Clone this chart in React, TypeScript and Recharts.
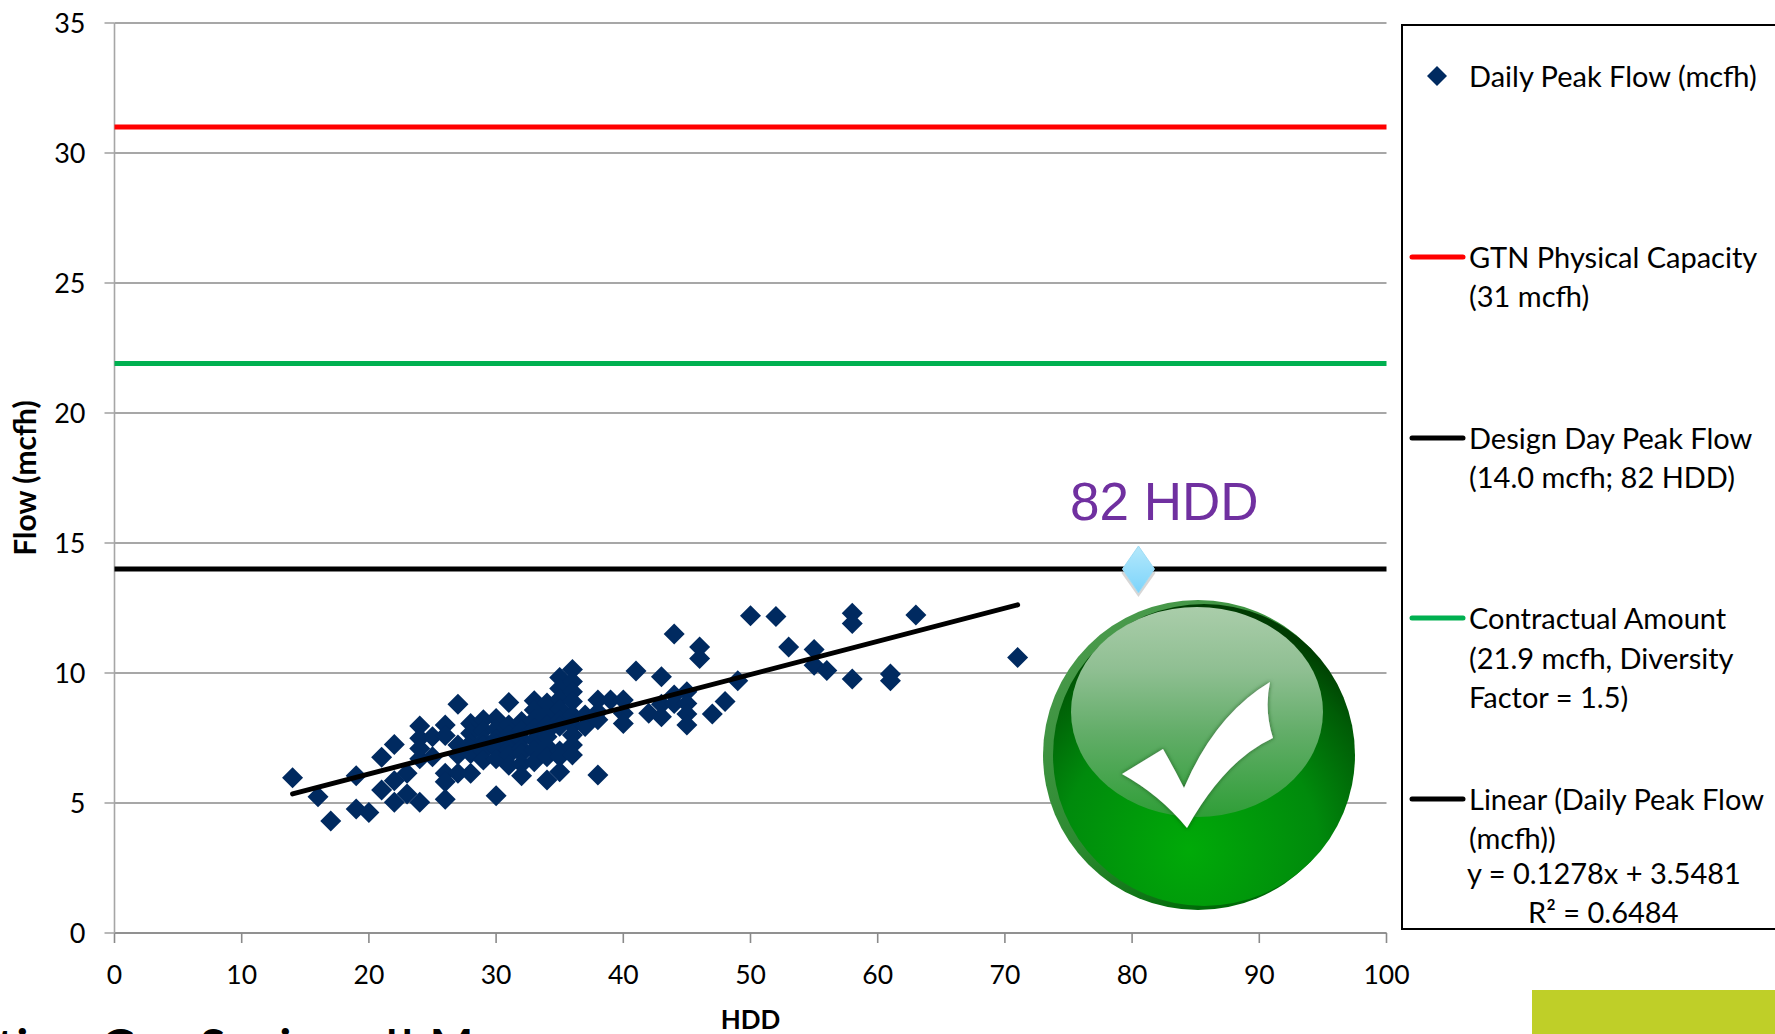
import { CartesianGrid, ReferenceDot, Scatter, ScatterChart, XAxis, YAxis } from 'recharts'

const WIDTH = 1775
const HEIGHT = 1034
const FONT = 'Lato, sans-serif'

const xTicks = [0, 10, 20, 30, 40, 50, 60, 70, 80, 90, 100]
const yTicks = [0, 5, 10, 15, 20, 25, 30, 35]

// [HDD, mcfh]
const peakFlowLow: [number, number][] = [
  [14, 5.97], [16, 5.24], [17, 4.31], [19, 6.05], [19, 4.77], [20, 4.63], [21, 6.76], [21, 5.5],
  [22, 7.25], [22, 5.86], [22, 5.03], [23, 6.14], [23, 5.35], [24, 7.96], [24, 7.49], [24, 7.1],
  [24, 6.7], [24, 5.03], [25, 7.55], [25, 6.78], [26, 8.0], [26, 7.6], [26, 6.14], [26, 5.82],
  [26, 5.14], [27, 8.8], [27, 7.23], [27, 6.85], [27, 6.14],
]
const peakFlowCluster: [number, number][] = [
  [28, 8.06], [28, 7.68], [28, 7.3], [28, 7.1], [28, 6.9], [28, 6.14], [29, 8.2], [29, 7.8],
  [29, 7.4], [29, 7.2], [29, 7.0], [29, 6.65], [30, 8.25], [30, 7.85], [30, 7.47], [30, 7.28],
  [30, 7.1], [30, 6.7], [30, 5.28], [31, 8.87], [31, 8.0], [31, 7.62], [31, 7.23], [31, 7.05],
  [31, 6.85], [31, 6.45], [32, 8.13], [32, 7.8], [32, 7.45], [32, 7.1], [32, 6.9], [32, 6.5],
  [32, 6.05], [33, 8.93], [33, 8.58], [33, 8.2], [33, 7.87], [33, 7.42], [33, 7.04], [33, 6.59],
  [34, 8.85], [34, 8.4], [34, 8.0], [34, 7.75], [34, 7.55], [34, 7.17], [34, 6.78], [34, 5.88],
  [35, 9.83], [35, 9.4], [35, 9.0], [35, 8.62], [35, 8.18], [35, 7.95], [35, 7.0], [35, 6.78],
  [35, 6.2], [36, 10.13], [36, 9.67], [36, 9.28], [36, 8.9], [36, 8.38], [36, 8.0], [36, 7.62],
  [36, 7.23], [36, 6.85], [37, 8.38], [37, 7.94], [38, 8.96], [38, 8.5], [38, 8.2], [38, 6.08],
  [39, 8.96], [40, 8.96], [40, 8.45], [40, 8.06],
]
const peakFlowHigh: [number, number][] = [
  [41, 10.08], [42, 8.45], [43, 9.86], [43, 8.8], [43, 8.32], [44, 11.5], [44, 9.15], [44, 8.83],
  [45, 9.28], [45, 8.83], [45, 8.42], [45, 8.0], [46, 11.0], [46, 10.56], [47, 8.42], [48, 8.9],
  [49, 9.7], [50, 12.2], [52, 12.17], [53, 11.0], [55, 10.9], [55, 10.3], [56, 10.1], [58, 12.3],
  [58, 11.9], [58, 9.77], [61, 9.96], [61, 9.7], [63, 12.23], [71, 10.6],
]
const peakFlow = [...peakFlowLow, ...peakFlowCluster, ...peakFlowHigh].map(([x, y]) => ({ x, y }))

const trendLine = [{ x: 14, y: 5.35 }, { x: 71, y: 12.62 }]
const capacityLine = [{ x: 0, y: 31 }, { x: 100.2, y: 31 }]
const contractLine = [{ x: 0, y: 21.9 }, { x: 100.2, y: 21.9 }]
const designLine = [{ x: 0, y: 14 }, { x: 100.2, y: 14 }]

const designMarkerHdd = 80.5
const designMarkerFlow = 14

const legendLines = [
  { color: '#ff0000', y: 257 },
  { color: '#000000', y: 438 },
  { color: '#00b050', y: 618 },
  { color: '#000000', y: 799 },
]
const legendTexts = [
  { text: 'Daily Peak Flow (mcfh)', x: 1469, y: 75 },
  { text: 'GTN Physical Capacity', x: 1469, y: 256 },
  { text: '(31 mcfh)', x: 1469, y: 295 },
  { text: 'Design Day Peak Flow', x: 1469, y: 437 },
  { text: '(14.0 mcfh; 82 HDD)', x: 1469, y: 476 },
  { text: 'Contractual Amount', x: 1469, y: 617 },
  { text: '(21.9 mcfh, Diversity', x: 1469, y: 657 },
  { text: 'Factor = 1.5)', x: 1469, y: 696 },
  { text: 'Linear (Daily Peak Flow', x: 1469, y: 798 },
  { text: '(mcfh))', x: 1469, y: 837 },
  { text: 'y = 0.1278x + 3.5481', x: 1467, y: 872 },
  { text: 'R² = 0.6484', x: 1528, y: 911 },
]

const Diamond = ({ cx, cy }: any) => (
  <polygon
    points={`${cx},${cy - 10.5} ${cx + 10.5},${cy} ${cx},${cy + 10.5} ${cx - 10.5},${cy}`}
    fill="#002a60"
  />
)

const NoPoint = () => null

const DesignMarker = ({ cx, cy }: any) => (
  <g>
    <defs>
      <linearGradient id="designFill" x1="0" y1="0" x2="0" y2="1">
        <stop offset="0%" stopColor="#b4e8fb" />
        <stop offset="100%" stopColor="#7cd4fb" />
      </linearGradient>
    </defs>
    <polygon
      points={`${cx},${cy - 20} ${cx + 17},${cy + 4} ${cx},${cy + 28} ${cx - 17},${cy + 4}`}
      fill="#000000"
      opacity={0.16}
    />
    <polygon
      points={`${cx},${cy - 23} ${cx + 16},${cy} ${cx},${cy + 24} ${cx - 16},${cy}`}
      fill="url(#designFill)"
      stroke="#9fdcf5"
      strokeWidth={1}
    />
  </g>
)

function CheckBadge() {
  return (
    <svg
      width={WIDTH}
      height={HEIGHT}
      style={{ position: 'absolute', left: 0, top: 0, pointerEvents: 'none' }}
    >
      <defs>
        <radialGradient id="ballFill" gradientUnits="userSpaceOnUse" cx={1190} cy={850} r={235}>
          <stop offset="0%" stopColor="#00aa08" />
          <stop offset="55%" stopColor="#008a0c" />
          <stop offset="85%" stopColor="#005c06" />
          <stop offset="100%" stopColor="#003c02" />
        </radialGradient>
        <linearGradient id="rimFill" x1="0" y1="0.2" x2="0.5" y2="1">
          <stop offset="0%" stopColor="#4a9a4c" />
          <stop offset="60%" stopColor="#2c8a30" />
          <stop offset="100%" stopColor="#006a08" />
        </linearGradient>
        <linearGradient id="glossFill" x1="0" y1="0" x2="0" y2="1">
          <stop offset="0%" stopColor="#aacdaa" />
          <stop offset="30%" stopColor="#8fbf92" />
          <stop offset="60%" stopColor="#62ad68" />
          <stop offset="100%" stopColor="#2f9e37" />
        </linearGradient>
        <filter id="checkShadow" x="-20%" y="-20%" width="140%" height="140%">
          <feDropShadow dx="0" dy="0" stdDeviation="2" floodColor="#1c4a1c" floodOpacity="0.8" />
        </filter>
      </defs>
      <circle cx={1198} cy={755} r={155} fill="url(#rimFill)" />
      <circle cx={1204} cy={755} r={151} fill="url(#ballFill)" />
      <ellipse cx={1197} cy={712} rx={126} ry={105} fill="url(#glossFill)" />
      <path
        d="M1122 774 L1163 749 Q1175 770 1184 788 Q1215 715 1270 682 Q1264 710 1273 738 Q1225 760 1187 828 Q1160 795 1122 774 Z"
        fill="#ffffff"
        filter="url(#checkShadow)"
      />
    </svg>
  )
}

function LegendBox() {
  return (
    <svg
      width={WIDTH}
      height={HEIGHT}
      style={{ position: 'absolute', left: 0, top: 0, pointerEvents: 'none' }}
    >
      <rect x={1402} y={25} width={400} height={904} fill="none" stroke="#000000" strokeWidth={2} />
      <polygon points="1437,66 1447,76 1437,86 1427,76" fill="#002a60" />
      {legendLines.map(line => (
        <line
          key={line.y}
          x1={1412}
          x2={1463}
          y1={line.y}
          y2={line.y}
          stroke={line.color}
          strokeWidth={5}
          strokeLinecap="round"
        />
      ))}
      {legendTexts.map(item => (
        <text
          key={item.text}
          x={item.x}
          y={item.y}
          dominantBaseline="central"
          fontFamily={FONT}
          fontSize={29}
          fill="#000000"
        >
          {item.text}
        </text>
      ))}
    </svg>
  )
}

export default function App() {
  return (
    <div
      style={{
        position: 'absolute',
        left: 0,
        top: 0,
        width: WIDTH,
        height: HEIGHT,
        overflow: 'hidden',
        background: '#ffffff',
        fontFamily: FONT,
      }}
    >
      <ScatterChart
        width={WIDTH}
        height={HEIGHT}
        margin={{ top: 23, right: 388.5, bottom: 41, left: 14.5 }}
      >
        <CartesianGrid horizontal vertical={false} stroke="#8a8a8a" strokeWidth={1.6} />
        <XAxis
          type="number"
          dataKey="x"
          domain={[0, 100]}
          ticks={xTicks}
          allowDataOverflow
          height={60}
          interval={0}
          stroke="#8a8a8a"
          strokeWidth={1.6}
          tickSize={10}
          tickMargin={22}
          tick={{ fontSize: 26.5, fontFamily: FONT, fill: '#000000' }}
          label={{
            value: 'HDD',
            position: 'insideBottom',
            offset: -36,
            style: { fontSize: 26, fontWeight: 700, fontFamily: FONT, fill: '#000000' },
          }}
        />
        <YAxis
          type="number"
          dataKey="y"
          domain={[0, 35]}
          ticks={yTicks}
          width={100}
          interval={0}
          stroke="#a6a6a6"
          strokeWidth={1.6}
          tickSize={10}
          tickMargin={19}
          tick={{ fontSize: 27, fontFamily: FONT, fill: '#000000' }}
          label={{
            value: 'Flow (mcfh)',
            angle: -90,
            position: 'insideLeft',
            offset: 11,
            style: { fontSize: 30, fontWeight: 700, fontFamily: FONT, fill: '#000000', textAnchor: 'middle' },
          }}
        />
        <Scatter
          data={capacityLine}
          line={{ stroke: '#ff0000', strokeWidth: 5, strokeLinecap: 'round' }}
          shape={NoPoint}
          isAnimationActive={false}
        />
        <Scatter
          data={contractLine}
          line={{ stroke: '#00b050', strokeWidth: 5, strokeLinecap: 'round' }}
          shape={NoPoint}
          isAnimationActive={false}
        />
        <Scatter
          data={designLine}
          line={{ stroke: '#000000', strokeWidth: 5, strokeLinecap: 'round' }}
          shape={NoPoint}
          isAnimationActive={false}
        />
        <Scatter data={peakFlow} shape={Diamond} isAnimationActive={false} />
        <Scatter
          data={trendLine}
          line={{ stroke: '#000000', strokeWidth: 5, strokeLinecap: 'round' }}
          shape={NoPoint}
          isAnimationActive={false}
        />
        <ReferenceDot x={designMarkerHdd} y={designMarkerFlow} r={16} shape={DesignMarker} />
      </ScatterChart>

      <CheckBadge />
      <LegendBox />

      <div
        style={{
          position: 'absolute',
          left: 1070,
          top: 472,
          fontFamily: '"Liberation Sans", Arial, sans-serif',
          fontSize: 53,
          lineHeight: '60px',
          color: '#7030a0',
          whiteSpace: 'nowrap',
        }}
      >
        82 HDD
      </div>
      <div
        style={{
          position: 'absolute',
          left: -3,
          top: 1022,
          fontFamily: FONT,
          fontWeight: 700,
          fontSize: 46,
          letterSpacing: 2.5,
          lineHeight: '46px',
          color: '#000000',
          whiteSpace: 'nowrap',
        }}
      >
        tion Gas Savings !! M
      </div>
      <div
        style={{
          position: 'absolute',
          left: 1532,
          top: 990,
          width: 243,
          height: 44,
          background: '#bfcf28',
        }}
      />
    </div>
  )
}
